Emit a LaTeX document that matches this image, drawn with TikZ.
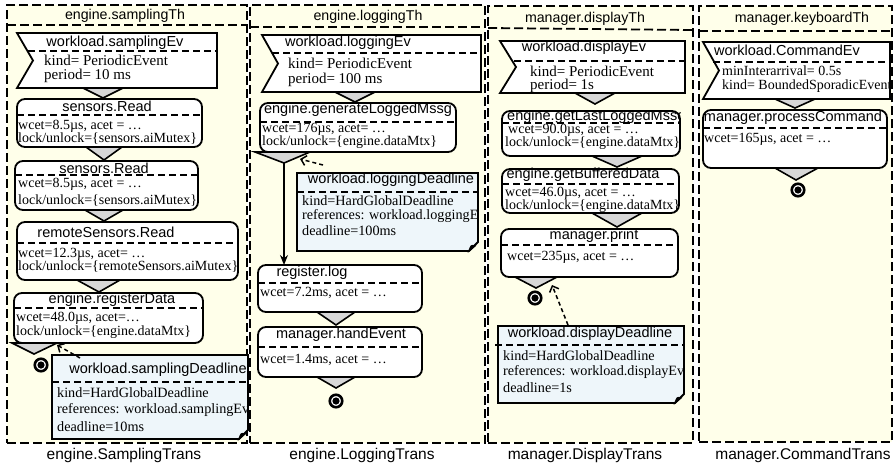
\documentclass[tikz,border=0pt]{standalone}
\usepackage{fontspec}
\setmainfont{Liberation Serif}
\setsansfont{Liberation Sans}
\usetikzlibrary{calc,arrows.meta}
\definecolor{lanebg}{RGB}{255,255,234}
\definecolor{notebg}{RGB}{238,246,250}
\definecolor{trigray}{RGB}{215,215,215}
\tikzset{
  lanest/.style={draw, fill=lanebg, line width=1.8pt, dash pattern=on 9pt off 4pt, inner sep=0pt, outer sep=0pt},
  lanesep/.style={line width=1.8pt, dash pattern=on 9pt off 4pt},
  actbox/.style={draw, fill=white, line width=1.8pt, rounded corners=8pt, inner sep=0pt, outer sep=0pt},
  evst/.style={draw, fill=white, line width=1.8pt, line join=miter},
  evbox/.style={inner sep=0pt, outer sep=0pt},
  notebox/.style={inner sep=0pt, outer sep=0pt},
  notest/.style={draw, fill=notebg, line width=1.8pt},
  sepl/.style={line width=1.8pt, dash pattern=on 7pt off 4pt},
  trist/.style={draw, fill=trigray, line width=1.6pt, line join=miter},
  hdr/.style={font=\sffamily\fontsize{14.2}{15}\selectfont, inner sep=0pt},
  ttl/.style={font=\sffamily\fontsize{14.5}{15}\selectfont, inner sep=0pt},
  bdy/.style={font=\fontsize{14}{14}\selectfont, inner sep=0pt, anchor=west},
  evbdy/.style={font=\fontsize{15}{15}\selectfont, inner sep=0pt, anchor=west},
  nbdy/.style={font=\fontsize{14.2}{14}\selectfont, inner sep=0pt, anchor=west},
  lbl/.style={font=\sffamily\fontsize{15.5}{16}\selectfont, inner sep=0pt},
  finst/.style={draw, fill=white, line width=2.6pt, circle, minimum size=12.5pt, inner sep=0pt},
  dep/.style={line width=1.5pt, dash pattern=on 4pt off 3pt, -{Straight Barb[length=5pt,width=10pt]}},
  flow/.style={line width=1.5pt, -{Stealth[length=10pt,width=8pt]}},
}
\newcommand\notepath[1]{%
  \filldraw[notest] (#1.north west) -- (#1.north east) -- ($(#1.south east)+(0,-9)$) -- ($(#1.south east)+(-9,0)$) -- (#1.south west) -- cycle;
  \filldraw[line width=1.2pt] ($(#1.south east)+(-9,0)$) .. controls ($(#1.south east)+(-7,-6)$) .. ($(#1.south east)+(-3,-5)$) -- cycle;}
\newcommand\evpath[1]{%
  \draw[evst] (#1.north west) -- (#1.north east) -- (#1.south east) -- (#1.south west) -- ($(#1.west)+(16,0)$) -- cycle;}
\newcommand\finmark[1]{\fill (#1.center) circle (3.6);}
\begin{document}
\begin{tikzpicture}[x=1pt,y=-1pt]
\useasboundingbox (0,0) rectangle (896,464);
\fill[white] (0,0) rectangle (896,464);

% ---------------- lanes ----------------
\node[lanest, anchor=north west, minimum width=240pt, minimum height=438pt] (lane1) at (7,5) {};
\draw[lanesep] (7,25) -- (247,25);
\node[hdr] (h1) at (125,16) {engine.samplingTh};
\node[lbl] (l1) at (124,455) {engine.SamplingTrans};

\node[lanest, anchor=north west, minimum width=235pt, minimum height=438pt] (lane2) at (250,5) {};
\draw[lanesep] (250,27) -- (485,27);
\node[hdr] (h2) at (368,17) {engine.loggingTh};
\node[lbl] (l2) at (362,455) {engine.LoggingTrans};

\node[lanest, anchor=north west, minimum width=205pt, minimum height=437pt] (lane3) at (488,6) {};
\draw[lanesep] (488,28) -- (693,30);
\node[hdr] (h3) at (585,19) {manager.displayTh};
\node[lbl] (l3) at (585,455) {manager.DisplayTrans};

\node[lanest, anchor=north west, minimum width=193pt, minimum height=436pt] (lane4) at (699,6) {};
\draw[lanesep] (699,31) -- (892,31);
\node[hdr] (h4) at (802,19) {manager.keyboardTh};
\node[lbl] (l4) at (803,455) {manager.CommandTrans};

% ---------------- lane 1 ----------------
\node[evbox, anchor=north west, minimum width=200pt, minimum height=55pt] (ev1) at (17,33) {};
\evpath{ev1}
\draw[sepl] (28,51) -- (217,51);
\node[ttl] (ev1t) at (115,43) {workload.samplingEv};
\node[evbdy] (ev1a) at (44,60) {kind= PeriodicEvent};
\node[evbdy] (ev1b) at (44,76) {period= 10 ms};
\filldraw[trist] (83,88) -- (123,88) -- (103,98) -- cycle;

\node[actbox, anchor=north west, minimum width=185pt, minimum height=48pt] (sr1) at (17,99) {};
\draw[sepl] ($(sr1.north west)+(0,16)$) -- ($(sr1.north east)+(0,16)$);
\node[ttl] (sr1t) at (107,106) {sensors.Read};
\node[bdy] (sr1a) at (18,126) {wcet=8.5µs, acet = …};
\node[bdy] (sr1b) at (18,139) {lock/unlock=\{sensors.aiMutex\}};
\filldraw[trist] (86,147) -- (122,147) -- (104,160) -- cycle;

\node[actbox, anchor=north west, minimum width=183pt, minimum height=49pt] (sr2) at (15,161) {};
\draw[sepl] ($(sr2.north west)+(0,14)$) -- ($(sr2.north east)+(0,14)$);
\node[ttl] (sr2t) at (104,168) {sensors.Read};
\node[bdy] (sr2a) at (18,184) {wcet=8.5µs, acet = …};
\node[bdy] (sr2b) at (18,201) {lock/unlock=\{sensors.aiMutex\}};
\filldraw[trist] (85,210) -- (123,210) -- (104,221) -- cycle;

\node[actbox, anchor=north west, minimum width=221pt, minimum height=58pt] (rs) at (17,222) {};
\draw[sepl] ($(rs.north west)+(0,21)$) -- ($(rs.north east)+(0,21)$);
\node[ttl] (rst) at (106,232) {remoteSensors.Read};
\node[bdy] (rsa) at (18,254) {wcet=12.3µs, acet= …};
\node[bdy] (rsb) at (18,267) {lock/unlock=\{remoteSensors.aiMutex\}};
\filldraw[trist] (77,280) -- (120,280) -- (99,292) -- cycle;

\node[actbox, anchor=north west, minimum width=189pt, minimum height=50pt] (rd) at (14,293) {};
\draw[sepl] ($(rd.north west)+(0,15)$) -- ($(rd.north east)+(0,15)$);
\node[ttl] (rdt) at (112,300) {engine.registerData};
\node[bdy] (rda) at (16,318) {wcet=48.0µs, acet=…};
\node[bdy] (rdb) at (16,332) {lock/unlock=\{engine.dataMtx\}};
\filldraw[trist] (12,343) -- (57,343) -- (34,354) -- cycle;
\coordinate (c1) at (57,345);

\node[finst] (f1) at (41,365) {};
\finmark{f1}

\node[notebox, anchor=north west, minimum width=196pt, minimum height=84pt] (n1) at (52,355) {};
\notepath{n1}
\draw[sepl] ($(n1.north west)+(0,27)$) -- ($(n1.north east)+(0,27)$);
\node[ttl] (n1t) at (158,370) {workload.samplingDeadline};
\begin{scope}
\clip (n1.north west) rectangle (n1.south east);
\node[nbdy] (n1a) at (57,393) {kind=HardGlobalDeadline};
\node[nbdy] (n1b) at (57,410) {references: workload.samplingEv};
\node[nbdy] (n1c) at (57,427) {deadline=10ms};
\end{scope}
\draw[dep] ($(n1.north west)+(28,3)$) -- (c1);

% ---------------- lane 2 ----------------
\node[evbox, anchor=north west, minimum width=219pt, minimum height=57pt] (ev2) at (262,35) {};
\evpath{ev2}
\draw[sepl] (272,53) -- (481,53);
\node[ttl] (ev2t) at (348,43) {workload.loggingEv};
\node[evbdy] (ev2a) at (288,63) {kind= PeriodicEvent};
\node[evbdy] (ev2b) at (288,80) {period= 100 ms};
\filldraw[trist] (335,92) -- (375,92) -- (355,102) -- cycle;

\node[actbox, anchor=north west, minimum width=196pt, minimum height=49pt] (gl) at (260,103) {};
\draw[sepl] ($(gl.north west)+(0,19)$) -- ($(gl.north east)+(0,19)$);
\node[ttl] (glt) at (358,110) {engine.generateLoggedMssg};
\node[bdy] (gla) at (262,129) {wcet=176µs, acet= …};
\node[bdy] (glb) at (262,142) {lock/unlock=\{engine.dataMtx\}};
\filldraw[trist] (255,152) -- (310,152) -- (284,163) -- cycle;
\coordinate (a2) at (284,163);
\coordinate (c2) at (300,159);

\node[notebox, anchor=north west, minimum width=181pt, minimum height=78pt] (n2) at (297,173) {};
\notepath{n2}
\draw[sepl] ($(n2.north west)+(0,19)$) -- ($(n2.north east)+(0,19)$);
\node[ttl] (n2t) at (391,180) {workload.loggingDeadline};
\begin{scope}
\clip (n2.north west) rectangle (n2.south east);
\node[nbdy] (n2a) at (302,201) {kind=HardGlobalDeadline};
\node[nbdy] (n2b) at (302,216) {references: workload.loggingEv};
\node[nbdy] (n2c) at (302,231) {deadline=100ms};
\end{scope}
\draw[dep] ($(n2.north west)+(26,-8)$) -- (c2);

\node[actbox, anchor=north west, minimum width=164pt, minimum height=47pt] (rl) at (258,265) {};
\draw[sepl] ($(rl.north west)+(0,18)$) -- ($(rl.north east)+(0,18)$);
\node[ttl] (rlt) at (312,273) {register.log};
\node[bdy] (rla) at (260,293) {wcet=7.2ms, acet = …};
\draw[flow] (a2) -- (a2 |- rl.north);
\filldraw[trist] (317,312) -- (355,312) -- (336,325) -- cycle;

\node[actbox, anchor=north west, minimum width=164pt, minimum height=50pt] (he) at (258,327) {};
\draw[sepl] ($(he.north west)+(0,20)$) -- ($(he.north east)+(0,20)$);
\node[ttl] (het) at (341,335) {manager.handEvent};
\node[bdy] (hea) at (260,360) {wcet=1.4ms, acet = …};
\filldraw[trist] (317,377) -- (355,377) -- (336,388) -- cycle;

\node[finst] (f2) at (336,401) {};
\finmark{f2}

% ---------------- lane 3 ----------------
\node[evbox, anchor=north west, minimum width=185pt, minimum height=52pt] (ev3) at (500,41) {};
\evpath{ev3}
\draw[sepl] (514,61) -- (685,61);
\node[ttl] (ev3t) at (584,48) {workload.displayEv};
\node[evbdy] (ev3a) at (530,71) {kind= PeriodicEvent};
\node[evbdy] (ev3b) at (530,86) {period= 1s};
\filldraw[trist] (575,93) -- (615,93) -- (595,104) -- cycle;

\node[actbox, anchor=north west, minimum width=178pt, minimum height=45pt] (lm) at (502,111) {};
\draw[sepl] ($(lm.north west)+(0,12)$) -- ($(lm.north east)+(0,12)$);
\begin{scope}
\clip (lm.north west) rectangle (lm.south east);
\node[ttl, anchor=west] (lmt) at (507,117) {engine.getLastLoggedMssg};
\node[bdy] (lma) at (508,130) {wcet=90.0µs, acet = …};
\node[bdy] (lmb) at (505,143) {lock/unlock=\{engine.dataMtx\}};
\end{scope}
\filldraw[trist] (592,156) -- (642,156) -- (617,167) -- cycle;

\node[actbox, anchor=north west, minimum width=177pt, minimum height=44pt] (bd) at (502,169) {};
\draw[sepl] ($(bd.north west)+(0,15)$) -- ($(bd.north east)+(0,15)$);
\node[ttl] (bdt) at (583,175) {engine.getBufferedData};
\begin{scope}
\clip (bd.north west) rectangle (bd.south east);
\node[bdy] (bda) at (505,193) {wcet=46.0µs, acet = …};
\node[bdy] (bdb) at (505,206) {lock/unlock=\{engine.dataMtx\}};
\end{scope}
\filldraw[trist] (592,213) -- (642,213) -- (617,227) -- cycle;

\node[actbox, anchor=north west, minimum width=177pt, minimum height=48pt] (pr) at (501,229) {};
\draw[sepl] ($(pr.north west)+(0,16)$) -- ($(pr.north east)+(0,16)$);
\node[ttl] (prt) at (594,236) {manager.print};
\node[bdy] (pra) at (507,257) {wcet=235µs, acet = …};
\filldraw[trist] (515,277) -- (557,277) -- (536,288) -- cycle;
\coordinate (c3) at (552,285);

\node[finst] (f3) at (535,298) {};
\finmark{f3}

\node[notebox, anchor=north west, minimum width=186pt, minimum height=77pt] (n3) at (498,326) {};
\notepath{n3}
\draw[sepl] ($(n3.north west)+(-3,19)$) -- ($(n3.north east)+(0,19)$);
\node[ttl] (n3t) at (590,334) {workload.displayDeadline};
\node[nbdy] (n3a) at (503,356) {kind=HardGlobalDeadline};
\node[nbdy] (n3b) at (503,372) {references: workload.displayEv};
\node[nbdy] (n3c) at (503,388) {deadline=1s};
\draw[dep] ($(n3.north west)+(70,-1)$) -- (c3);

% ---------------- lane 4 ----------------
\node[evbox, anchor=north west, minimum width=187pt, minimum height=57pt] (ev4) at (703,42) {};
\evpath{ev4}
\draw[sepl] (713,62) -- (890,62);
\node[ttl] (ev4t) at (787,50) {workload.CommandEv};
\begin{scope}
\clip (ev4.north west) rectangle (ev4.south east);
\node[bdy] (ev4a) at (722,71) {minInterarrival= 0.5s};
\node[bdy] (ev4b) at (722,86) {kind= BoundedSporadicEvent};
\end{scope}
\filldraw[trist] (775,99) -- (815,99) -- (795,108) -- cycle;

\node[actbox, anchor=north west, minimum width=184pt, minimum height=58pt] (pc) at (703,110) {};
\draw[sepl] ($(pc.north west)+(0,18)$) -- ($(pc.north east)+(0,18)$);
\node[ttl] (pct) at (793,118) {manager.processCommand};
\node[bdy] (pca) at (704,139) {wcet=165µs, acet = …};
\filldraw[trist] (775,168) -- (818,168) -- (796,180) -- cycle;

\node[finst] (f4) at (798,190) {};
\finmark{f4}
\end{tikzpicture}
\end{document}
